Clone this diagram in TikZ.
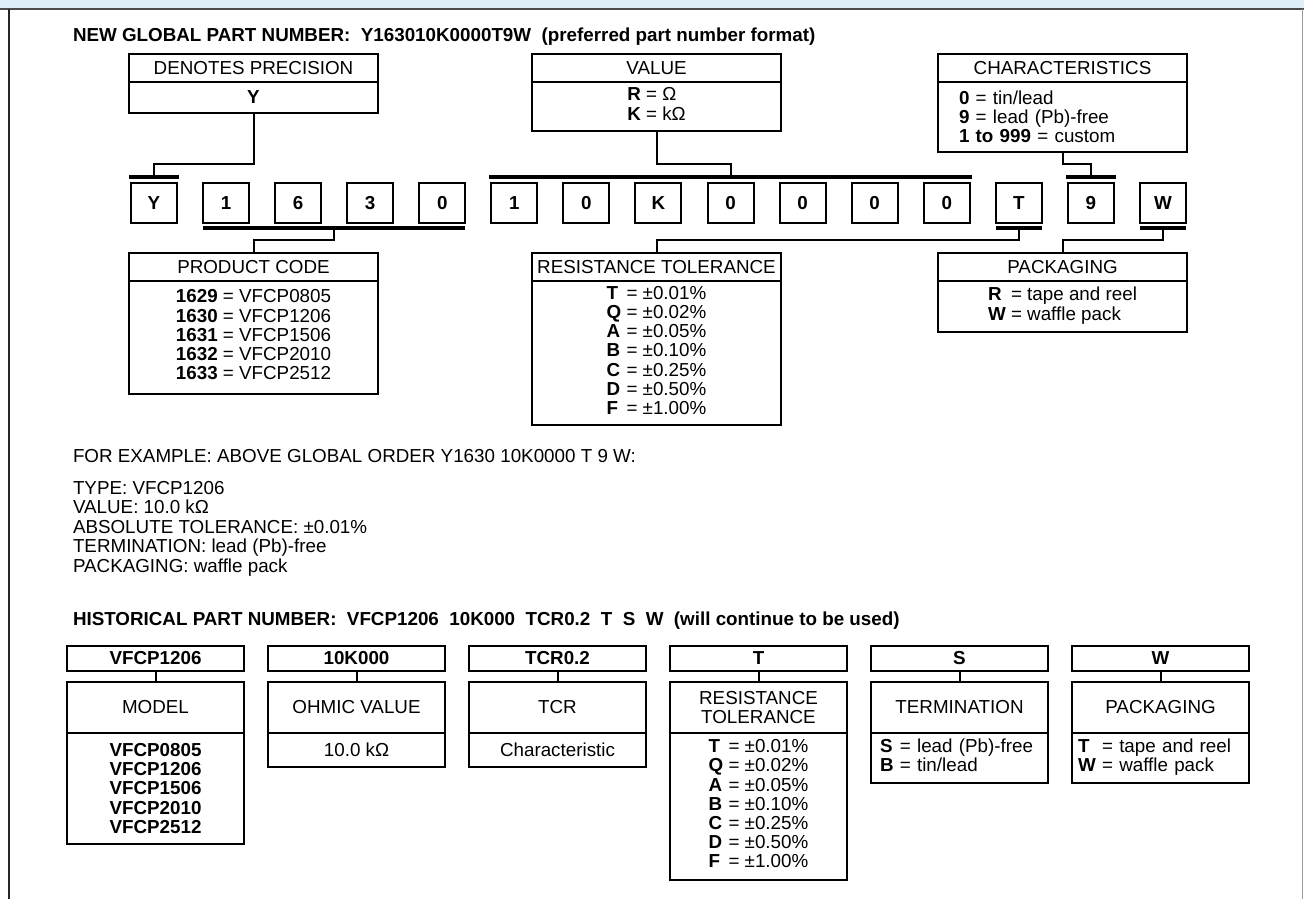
\documentclass[tikz,border=0pt]{standalone}
\usepackage{fontspec}
\setmainfont{Liberation Sans}
\usetikzlibrary{positioning,calc}
\definecolor{bandblue}{HTML}{DFF0FA}
\newcommand{\band}{bandblue}
\newcommand{\rim}{black!70}
\newcommand{\txtsize}{\fontsize{18.8}{19.2}\selectfont}
\pgfmathsetmacro{\pitch}{72.07}
\pgfmathsetmacro{\histPitch}{201}

\begin{document}
\begin{tikzpicture}[x=1pt,y=-1pt,font=\txtsize,
    every node/.style={inner sep=0pt,outer sep=0pt},
    box/.style={draw,line width=2pt,align=center},
    head/.style={box,minimum width=249pt,minimum height=28pt},
    body/.style={box,minimum width=249pt},
    digit/.style={box,font=\txtsize\bfseries,minimum width=46pt,minimum height=40pt},
    bar/.style={line width=3.5pt},
    link/.style={line width=2pt},
    tag/.style={box,font=\txtsize\bfseries,minimum width=177pt,minimum height=25pt},
    field/.style={box,minimum width=177pt,minimum height=51pt},
    list/.style={box,minimum width=177pt}]

\useasboundingbox (0,0) rectangle (1304,899);

% page frame
\fill[\band] (0,0) rectangle (1304,8.5);
\draw[line width=2pt,\rim] (0,9) -- (1304,9);
\draw[line width=2pt,black!85] (9,9) -- (9,899);
\draw[line width=1.5pt,black!40] (1302.5,9) -- (1302.5,899);

% new part number
\node[anchor=base west,font=\txtsize\bfseries] (newTitle) at (73,41.6)
    {NEW GLOBAL PART NUMBER:\ \ Y163010K0000T9W\ \ (preferred part number format)};

% boxes above the digits
\node[head,anchor=north west] (precHead) at (129,54) {DENOTES PRECISION};
\node[body,minimum height=31pt,below=0pt of precHead] (precBody) {\textbf{Y}};
\node[head,anchor=north west] (valHead) at (532,54) {VALUE};
\node[body,minimum height=49pt,below=0pt of valHead] (valBody)
    {\begin{tabular}{@{}l@{}}\textbf{R} = Ω\\\textbf{K} = kΩ\end{tabular}};
\node[head,anchor=north west] (charHead) at (938,54) {CHARACTERISTICS};
\node[body,minimum height=70pt,below=0pt of charHead,
    text width=207pt,align=left,inner xsep=21pt] (charBody)
    {\textbf{0} = tin/lead\\\textbf{9} = lead (Pb)-free\\\textbf{1 to 999} = custom};

% part number digits
\foreach \ch [count=\i from 0] in {Y,1,6,3,0,1,0,K,0,0,0,0,T,9,W}
{
    \node[digit] (d\i) at ({154+\pitch*\i},203) {\ch};
}

% bars over and under the digits
\draw[bar] ([yshift=6pt,xshift=-2pt]d0.north west) --
    ([yshift=6pt,xshift=2pt]d0.north east);
\draw[bar] ([yshift=6pt,xshift=-2pt]d5.north west) --
    ([yshift=6pt,xshift=2pt]d11.north east);
\draw[bar] ([yshift=6pt,xshift=-2pt]d13.north west) --
    ([yshift=6pt,xshift=2pt]d13.north east);
\draw[bar] ([yshift=-5pt]d1.south west) -- ([yshift=-5pt]d4.south east);
\draw[bar] ([yshift=-5pt]d12.south west) -- ([yshift=-5pt]d12.south east);
\draw[bar] ([yshift=-5pt]d14.south west) -- ([yshift=-5pt]d14.south east);
\coordinate (precBar) at ([yshift=6pt]d0.north);
\coordinate (valBar) at ([yshift=6pt]d8.north);
\coordinate (charBar) at ([yshift=6pt]d13.north);
\coordinate (codeBar) at ($([yshift=-5pt]d2.south)!0.5!([yshift=-5pt]d3.south)$);
\coordinate (tolBar) at ([yshift=-5pt]d12.south);
\coordinate (packBar) at ([yshift=-5pt]d14.south);
\coordinate (upLevel) at (0,164);
\coordinate (lowLevel) at (0,240);

% boxes below the digits
\node[head,anchor=north west] (codeHead) at (129,253) {PRODUCT CODE};
\node[body,minimum height=113pt,below=0pt of codeHead] (codeBody)
    {\begin{tabular}{@{}l@{ }l@{}}
    \textbf{1629} & = VFCP0805\\\textbf{1630} & = VFCP1206\\
    \textbf{1631} & = VFCP1506\\\textbf{1632} & = VFCP2010\\
    \textbf{1633} & = VFCP2512\end{tabular}};
\node[head,anchor=north west] (tolHead) at (532,253) {RESISTANCE TOLERANCE};
\node[body,minimum height=144pt,below=0pt of tolHead] (tolBody)
    {\begin{tabular}{@{}l@{ }l@{}}
    \textbf{T} & = ±0.01\%\\\textbf{Q} & = ±0.02\%\\\textbf{A} & = ±0.05\%\\
    \textbf{B} & = ±0.10\%\\\textbf{C} & = ±0.25\%\\\textbf{D} & = ±0.50\%\\
    \textbf{F} & = ±1.00\%\end{tabular}};
\node[head,anchor=north west] (packHead) at (938,253) {PACKAGING};
\node[body,minimum height=51pt,below=0pt of packHead] (packBody)
    {\begin{tabular}{@{}l@{ }l@{}}
    \textbf{R} & = tape and reel\\\textbf{W} & = waffle pack\end{tabular}};

% connectors
\draw[link] (precBody.south) -- (precBody.south |- upLevel) -| (precBar);
\draw[link] (valBody.south) -- (valBody.south |- upLevel) -| (valBar);
\draw[link] (charBody.south) -- (charBody.south |- upLevel) -| (charBar);
\draw[link] (codeBar) -- (codeBar |- lowLevel) -| (codeHead.north);
\draw[link] (tolBar) -- (tolBar |- lowLevel) -| (tolHead.north);
\draw[link] (packBar) -- (packBar |- lowLevel) -| (packHead.north);

% example
\node[anchor=base west] (exHead) at (73,462)
    {FOR EXAMPLE: ABOVE GLOBAL ORDER Y1630 10K0000 T 9 W:};
\foreach \txt [count=\k from 0] in {TYPE: VFCP1206, VALUE: 10.0 kΩ,
    ABSOLUTE TOLERANCE: ±0.01\%, TERMINATION: lead (Pb)-free,
    PACKAGING: waffle pack}
{
    \node[anchor=base west] (ex\k) at (73,{494+19.6*\k}) {\txt};
}

% historical part number
\node[anchor=base west,font=\txtsize\bfseries] (histTitle) at (73,625)
    {HISTORICAL PART NUMBER:\ \ VFCP1206\ \ 10K000\ \ TCR0.2\ \ T\ \ S\ \ W\ \ (will continue to be used)};
\foreach \code/\name [count=\j from 0] in {VFCP1206/MODEL,
    10K000/OHMIC VALUE, TCR0.2/TCR, T/{RESISTANCE\\TOLERANCE},
    S/TERMINATION, W/PACKAGING}
{
    \node[tag] (tag\j) at ({155.5+\histPitch*\j},658.5) {\code};
    \node[field,below=11pt of tag\j] (field\j) {\name};
    \draw[link] (tag\j) -- (field\j);
}
\node[list,font=\txtsize\bfseries,minimum height=111pt,below=0pt of field0]
    (list0) {VFCP0805\\VFCP1206\\VFCP1506\\VFCP2010\\VFCP2512};
\node[list,minimum height=34pt,below=0pt of field1] (list1) {10.0 kΩ};
\node[list,minimum height=34pt,below=0pt of field2] (list2) {Characteristic};
\node[list,minimum height=147pt,below=0pt of field3] (list3)
    {\begin{tabular}{@{}l@{ }l@{}}
    \textbf{T} & = ±0.01\%\\\textbf{Q} & = ±0.02\%\\\textbf{A} & = ±0.05\%\\
    \textbf{B} & = ±0.10\%\\\textbf{C} & = ±0.25\%\\\textbf{D} & = ±0.50\%\\
    \textbf{F} & = ±1.00\%\end{tabular}};
\node[list,minimum height=50pt,below=0pt of field4,
    text width=159pt,align=left,inner xsep=9pt] (list4)
    {\begin{tabular}{@{}l@{ }l@{}}
    \textbf{S} & = lead (Pb)-free\\\textbf{B} & = tin/lead\end{tabular}};
\node[list,minimum height=50pt,below=0pt of field5,
    text width=165pt,align=left,inner xsep=6pt] (list5)
    {\begin{tabular}{@{}l@{ }l@{}}
    \textbf{T} & = tape and reel\\\textbf{W} & = waffle pack\end{tabular}};

\end{tikzpicture}
\end{document}
